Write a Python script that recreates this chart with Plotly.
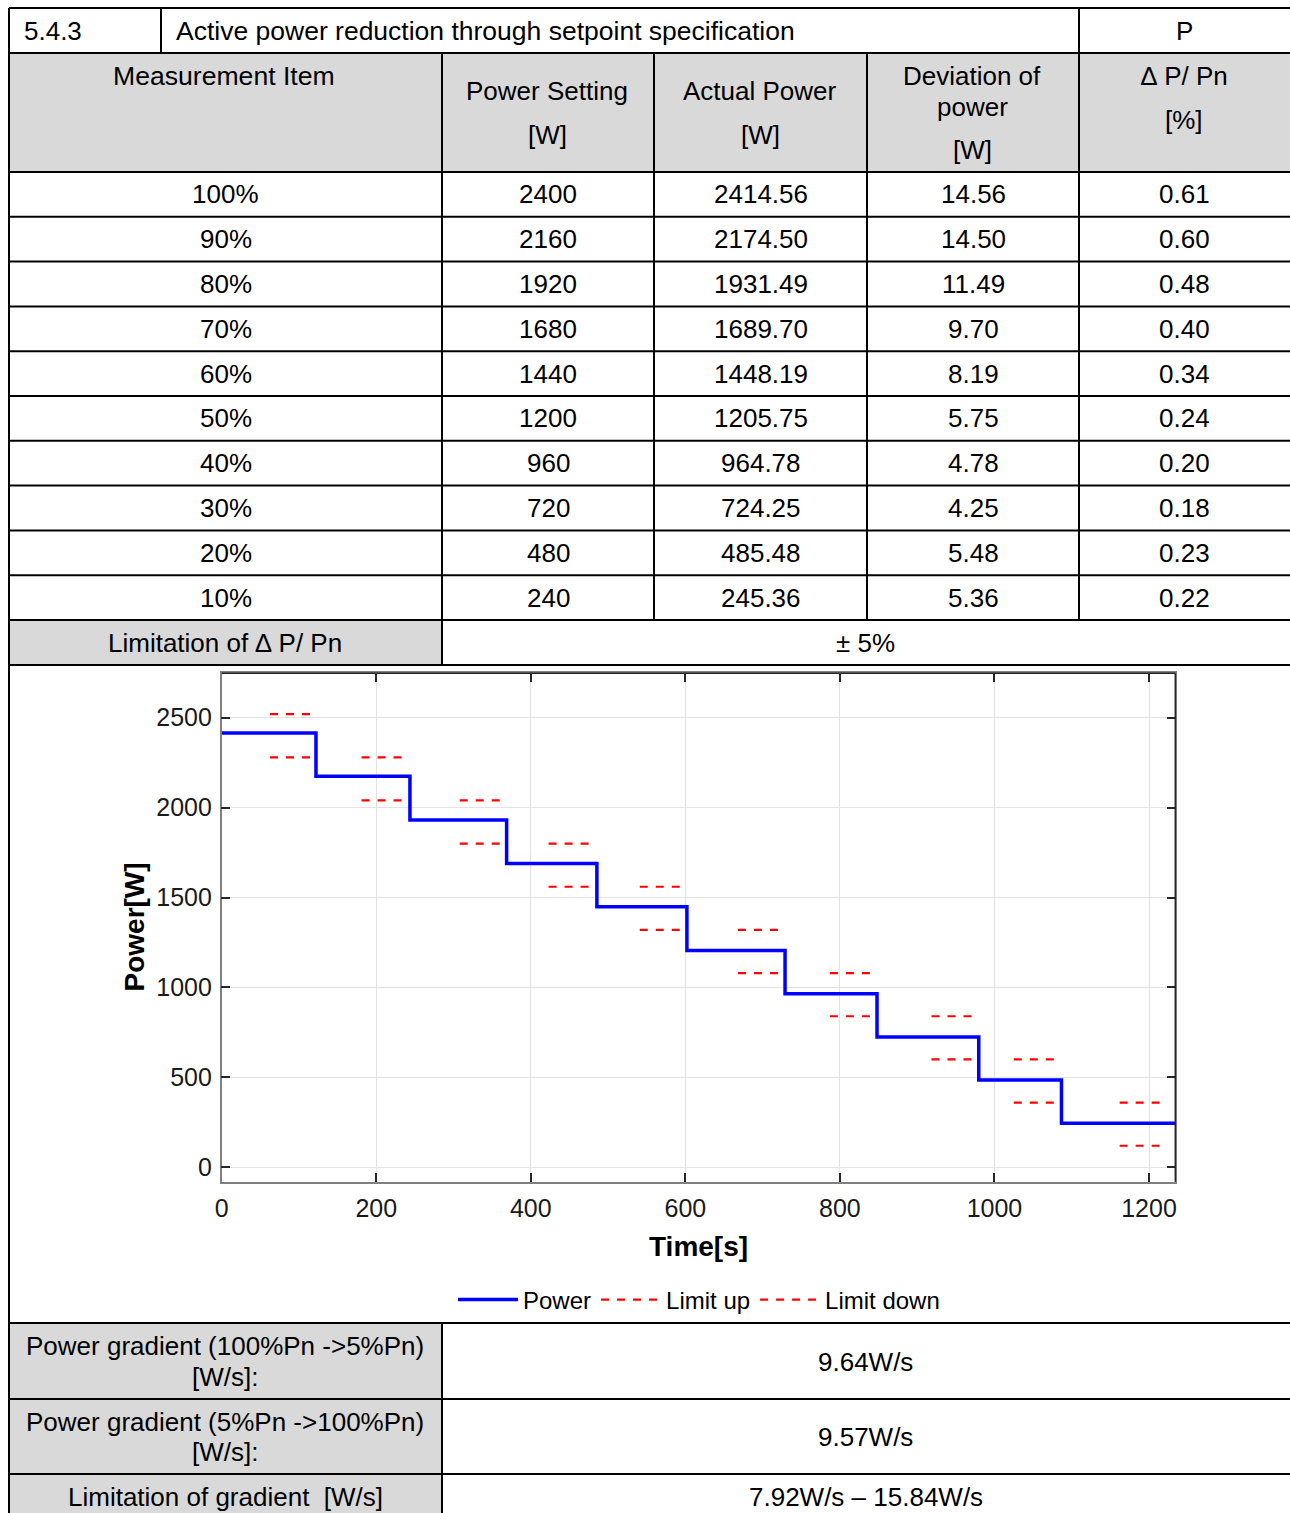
import plotly.graph_objects as go

W, H = 1290, 1513

# ---------------- data ----------------
measure_items = ["100%", "90%", "80%", "70%", "60%", "50%", "40%", "30%", "20%", "10%"]
power_setting = [2400, 2160, 1920, 1680, 1440, 1200, 960, 720, 480, 240]
actual_power = [2414.56, 2174.50, 1931.49, 1689.70, 1448.19, 1205.75, 964.78, 724.25, 485.48, 245.36]
deviation = ["14.56", "14.50", "11.49", "9.70", "8.19", "5.75", "4.78", "4.25", "5.48", "5.36"]
dp_pn = ["0.61", "0.60", "0.48", "0.40", "0.34", "0.24", "0.20", "0.18", "0.23", "0.22"]

# step boundaries of the measured power curve [s]
step_bounds = [0, 122, 243.6, 368.7, 485.5, 602, 729, 848, 979.7, 1086.7, 1234]
# limit segments (start time [s], length [s]) and limit values [W]
limit_start = [62.5, 181, 308, 423, 541, 668, 787, 918.5, 1025, 1162]
limit_len = 52
limit_up = [2520, 2280, 2040, 1800, 1560, 1320, 1080, 840, 600, 360]
limit_down = [2280, 2040, 1800, 1560, 1320, 1080, 840, 600, 360, 120]

x_ticks = [0, 200, 400, 600, 800, 1000, 1200]
y_ticks = [0, 500, 1000, 1500, 2000, 2500]

FONT = "Liberation Sans, Arial, sans-serif"

# ---------------- traces ----------------
px_t, px_v = [], []
for i, v in enumerate(actual_power):
    px_t += [step_bounds[i], step_bounds[i + 1]]
    px_v += [v, v]

lu_t, lu_v, ld_t, ld_v = [], [], [], []
for s, u, d in zip(limit_start, limit_up, limit_down):
    lu_t += [s, s + limit_len, None]
    lu_v += [u, u, None]
    ld_t += [s, s + limit_len, None]
    ld_v += [d, d, None]

fig = go.Figure()
fig.add_trace(go.Scatter(x=px_t, y=px_v, mode="lines", name="Power",
                         line=dict(color="#0000FF", width=3.5)))
fig.add_trace(go.Scatter(x=lu_t, y=lu_v, mode="lines", name="Limit up",
                         line=dict(color="#FF0000", width=2.2, dash="8px,8px")))
fig.add_trace(go.Scatter(x=ld_t, y=ld_v, mode="lines", name="Limit down",
                         line=dict(color="#FF0000", width=2.2, dash="8px,8px")))


def PX(x):
    return x / W


def PY(y):
    return 1 - y / H


shapes = []
annots = []


def rect(x0, y0, x1, y1, color):
    shapes.append(dict(type="rect", xref="paper", yref="paper", x0=PX(x0), x1=PX(x1),
                       y0=PY(y1), y1=PY(y0), fillcolor=color, line=dict(width=0),
                       layer="below"))


def hline(y, x0, x1, w=2):
    shapes.append(dict(type="line", xref="paper", yref="paper", x0=PX(x0), x1=PX(x1),
                       y0=PY(y), y1=PY(y), line=dict(color="black", width=w)))


def vline(x, y0, y1, w=2):
    shapes.append(dict(type="line", xref="paper", yref="paper", x0=PX(x), x1=PX(x),
                       y0=PY(y0), y1=PY(y1), line=dict(color="black", width=w)))


def txt(x, y, s, size=26, xanchor="center", bold=False):
    annots.append(dict(xref="paper", yref="paper", x=PX(x), y=PY(y), text=s,
                       showarrow=False, xanchor=xanchor, yanchor="middle",
                       font=dict(family=FONT, size=size, color="black",
                                 weight="bold" if bold else "normal")))


GRAY = "#d9d9d9"
L, R = 9, 1290
cols = [9, 442, 654, 867, 1079, 1290]
row_top = 172
row_h = 44.8

# fills
rect(L, 53, R, 172, GRAY)
rect(L, 620, 442, 665, GRAY)
rect(L, 1323, 442, 1513, GRAY)

# horizontal lines
for y in [8, 53]:
    hline(y, L, R)
for k in range(11):
    hline(row_top + k * row_h, L, R)
for y in [665, 1323, 1399, 1474]:
    hline(y, L, R)

# vertical lines
vline(L, 8, 1513)
vline(161, 8, 53)
vline(1079, 8, 620)
vline(442, 53, 665)
vline(442, 1323, 1513)
vline(654, 53, 620)
vline(867, 53, 620)

# top row
txt(22, 31, "5.4.3", xanchor="left")
txt(174, 31, "Active power reduction through setpoint specification", size=26.5, xanchor="left")
txt(1184, 31, "P")

# header
txt(224, 76, "Measurement Item", size=26.6)
txt(547, 91, "Power Setting")
txt(547, 135, "[W]")
txt(760, 91, "Actual Power")
txt(760, 135, "[W]")
txt(972, 76, "Deviation of")
txt(972, 107, "power")
txt(972, 150, "[W]")
txt(1184, 76, "∆ P/ Pn")
txt(1184, 120, "[%]")

centers = [(cols[i] + cols[i + 1]) / 2 for i in range(5)]
for k in range(10):
    yc = row_top + (k + 0.5) * row_h
    txt(centers[0], yc, measure_items[k])
    txt(centers[1], yc, str(power_setting[k]))
    txt(centers[2], yc, f"{actual_power[k]:.2f}")
    txt(centers[3], yc, deviation[k])
    txt(centers[4], yc, dp_pn[k])

txt(225, 643, "Limitation of ∆ P/ Pn")
txt(866, 643, "± 5%")

# bottom rows
txt(225, 1346, "Power gradient (100%Pn ->5%Pn)")
txt(225, 1377, "[W/s]:")
txt(866, 1362, "9.64W/s")
txt(225, 1422, "Power gradient (5%Pn ->100%Pn)")
txt(225, 1452, "[W/s]:")
txt(866, 1437, "9.57W/s")
txt(225, 1497, "Limitation of gradient  [W/s]")
txt(866, 1497, "7.92W/s – 15.84W/s")

# axis titles
txt(698.5, 1246, "Time[s]", size=28, bold=True)
annots.append(dict(xref="paper", yref="paper", x=PX(134), y=PY(927.5), text="Power[W]",
                   showarrow=False, textangle=-90, xanchor="center", yanchor="middle",
                   font=dict(family=FONT, size=28, color="black", weight="bold")))

# plot area box (top/right dark lines)
px0, px1, py0, py1 = 221.7, 1175.3, 673.3, 1181.7
shapes.append(dict(type="line", xref="paper", yref="paper", x0=PX(px0), x1=PX(px1),
                   y0=PY(py0), y1=PY(py0), line=dict(color="#262626", width=1.5), layer="above"))
shapes.append(dict(type="line", xref="paper", yref="paper", x0=PX(px1), x1=PX(px1),
                   y0=PY(py0), y1=PY(py1), line=dict(color="#262626", width=1.5), layer="above"))

axis_common = dict(showgrid=True, gridcolor="#e3e3e3", gridwidth=1, zeroline=False,
                   showline=True, linecolor="#808080", linewidth=1.5, mirror="ticks",
                   ticks="inside", ticklen=9, tickcolor="#262626", tickwidth=1.5,
                   tickfont=dict(family=FONT, size=25, color="#1a1a1a"),
                   automargin=False)

fig.update_layout(
    template="none",
    width=W, height=H, autosize=False,
    margin=dict(l=0, r=0, t=0, b=0, pad=0, autoexpand=False),
    paper_bgcolor="white", plot_bgcolor="white",
    font=dict(family=FONT, color="black"),
    shapes=shapes, annotations=annots,
    showlegend=True,
    legend=dict(orientation="h", x=PX(699), y=PY(1300), xanchor="center", yanchor="middle",
                font=dict(family=FONT, size=24, color="black"), itemwidth=60,
                bgcolor="rgba(0,0,0,0)", borderwidth=0, tracegroupgap=0),
    xaxis=dict(domain=[PX(px0), PX(px1)], range=[0, 1234], tickvals=x_ticks,
               ticktext=[str(v) for v in x_ticks], ticklabelstandoff=4, **axis_common),
    yaxis=dict(domain=[PY(py1), PY(py0)], range=[-80, 2747], tickvals=y_ticks,
               ticktext=[str(v) for v in y_ticks], ticklabelstandoff=3, **axis_common),
)

post = ("document.documentElement.style.margin='0';"
        "document.body.style.margin='0';document.body.style.padding='0';"
        "document.documentElement.style.overflow='hidden';")
fig.write_html("out.html", config={"responsive": False}, post_script=post)
